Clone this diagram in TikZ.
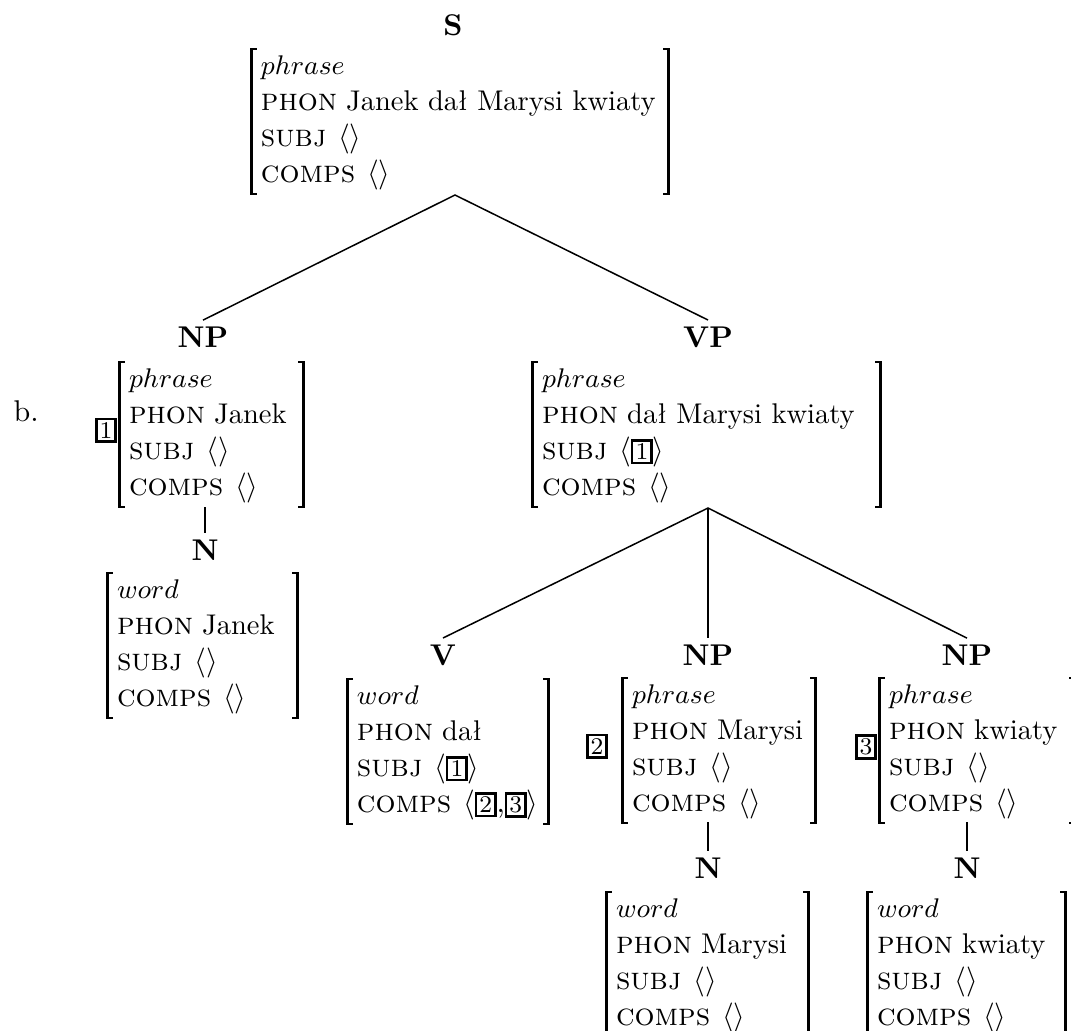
\documentclass[tikz,border=0pt]{standalone}
\usetikzlibrary{calc}
\setlength{\fboxsep}{0.7pt}
\setlength{\fboxrule}{0.8pt}
\newcommand{\avmtag}[1]{\fbox{\footnotesize #1}}
\newcommand{\feat}[1]{{\fontsize{10.5pt}{12pt}\selectfont\textsc{#1}}}
\newcommand{\phonval}[1]{{\fontsize{9.5pt}{12pt}\selectfont #1}}
\newcommand{\avmtype}[1]{{\fontsize{8.6pt}{10pt}\selectfont $#1$}}
\newcommand{\avmcontent}[5]{\hspace*{3pt}\makebox[#1][l]{\begin{tabular}{@{}l@{}}\avmtype{#2}\\ \feat{phon}\hspace{3pt}\phonval{#3}\\ \feat{subj}\hspace{4pt}$\langle$#4$\rangle$\\ \feat{comps}\hspace{4pt}$\langle$#5$\rangle$\end{tabular}}}
\tikzset{
  avm/.style={inner xsep=0pt, inner ysep=0pt, anchor=north},
  cat/.style={font=\bfseries, inner sep=2pt},
  tagnode/.style={inner sep=0pt},
  bracket/.style={line width=0.8pt},
  edge/.style={line width=0.5pt}
}
\newcommand{\brk}[1]{%
  \draw[bracket] ([xshift=1.8pt]#1.north west) -- (#1.north west) -- (#1.south west) -- ([xshift=1.8pt]#1.south west);
  \draw[bracket] ([xshift=-1.8pt]#1.north east) -- (#1.north east) -- (#1.south east) -- ([xshift=-1.8pt]#1.south east);}
\begin{document}
\begin{tikzpicture}[x=0.33333pt,y=-0.33333pt]
\useasboundingbox (0,0) rectangle (1071,1030);
% labels
\node[cat] (s) at (453,25) {S};
\node[cat] (np1) at (203,337) {NP};
\node[cat] (vp) at (708,337) {VP};
\node[cat] (n1) at (205,550) {N};
\node[cat] (v) at (443,655) {V};
\node[cat] (np2) at (708,655) {NP};
\node[cat] (np3) at (967,655) {NP};
\node[cat] (n2) at (708,868) {N};
\node[cat] (n3) at (967,868) {N};
% AVMs
\node[avm] (savm) at (460,49) {\avmcontent{135.67pt}{phrase}{Janek dał Marysi kwiaty}{}{}};
\node[avm] (np1avm) at (211.5,362) {\avmcontent{58pt}{phrase}{Janek}{}{}};
\node[avm] (n1avm) at (202.5,573) {\avmcontent{60pt}{word}{Janek}{}{}};
\node[avm] (vpavm) at (706.5,362) {\avmcontent{112.67pt}{phrase}{dał Marysi kwiaty}{\avmtag{1}}{}};
\node[avm] (vavm) at (448,679) {\avmcontent{63.67pt}{word}{dał}{\avmtag{1}}{\avmtag{2},\avmtag{3}}};
\node[avm] (np2avm) at (719,678) {\avmcontent{61pt}{phrase}{Marysi}{}{}};
\node[avm] (np3avm) at (977,678) {\avmcontent{61.67pt}{phrase}{kwiaty}{}{}};
\node[avm] (n2avm) at (707.5,892) {\avmcontent{64pt}{word}{Marysi}{}{}};
\node[avm] (n3avm) at (966.5,892) {\avmcontent{62.67pt}{word}{kwiaty}{}{}};
\foreach \a in {savm,np1avm,n1avm,vpavm,vavm,np2avm,np3avm,n2avm,n3avm} {\brk{\a}}
% tags
\node[tagnode] (t1) at (106,430) {\avmtag{1}};
\node[tagnode] (t2) at (597,746) {\avmtag{2}};
\node[tagnode] (t3) at (866,747) {\avmtag{3}};
\node[anchor=base west, inner sep=0pt] (b) at (13,421) {b.};
% connectors
\coordinate (sapex) at (455,195);
\coordinate (vpapex) at (708,508);
\coordinate (np1foot) at (205,507);
\coordinate (np2foot) at (708,822);
\coordinate (np3foot) at (967,822);
\draw[edge] (np1.north) -- (sapex) -- (vp.north);
\draw[edge] (v.north) -- (vpapex) -- (np3.north);
\draw[edge] (vpapex) -- (np2.north);
\draw[edge] (np1foot) -- (n1.north);
\draw[edge] (np2foot) -- (n2.north);
\draw[edge] (np3foot) -- (n3.north);
\end{tikzpicture}
\end{document}
